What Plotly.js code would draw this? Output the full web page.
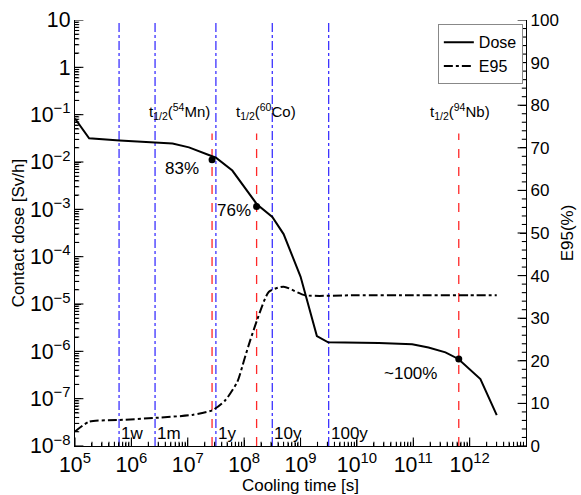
<!DOCTYPE html>
<html>
<head>
<meta charset="utf-8">
<script src="https://cdn.plot.ly/plotly-3.0.1.min.js"></script>
<style>
html,body{margin:0;padding:0;background:#fff;}
#chart{width:581px;height:495px;}
</style>
</head>
<body>
<div id="chart"></div>
<script>
// ---- data ----
const doseTime = [1e5, 1.78e5, 6.17e5, 2.69e6, 5.37e6, 1.05e7, 2.09e7, 3.16e7, 6.17e7, 1.70e8, 3.16e8, 5.01e8, 1e9, 1.95e9, 3.09e9, 2.45e10, 9.55e10, 1.86e11, 3.72e11, 6.31e11, 1.55e12, 3.02e12];
const doseValue = [0.083, 0.0316, 0.0285, 0.0259, 0.0245, 0.0204, 0.0148, 0.0123, 0.0066, 0.00126, 6.9e-4, 3.0e-4, 3.8e-5, 2.1e-6, 1.55e-6, 1.5e-6, 1.41e-6, 1.2e-6, 9.5e-7, 6.9e-7, 2.6e-7, 4.5e-8];

const e95Time = [1e5, 1.78e5, 6.17e5, 2.69e6, 1.2e7, 2.75e7, 4.68e7, 7.59e7, 1e8, 1.26e8, 1.70e8, 2.75e8, 5.01e8, 1.2e9, 1e10, 1e11, 1e12, 3.02e12];
const e95Value = [3.4, 5.7, 6.1, 6.6, 7.3, 8.4, 10.8, 15.1, 20.2, 24.5, 29.6, 36.2, 37.4, 35.4, 35.4, 35.4, 35.4, 35.4];

const periodLabels = ['1w', '1m', '1y', '10y', '100y'];
const periodSeconds = [604800, 2629800, 31557600, 315576000, 3155760000];

const nuclideLabels = ['t<sub>1/2</sub>(<sup>54</sup>Mn)', 't<sub>1/2</sub>(<sup>60</sup>Co)', 't<sub>1/2</sub>(<sup>94</sup>Nb)'];
const halfLifeSeconds = [2.697e7, 1.6635e8, 6.406e11];
const halfLifeDose = [0.0112, 0.00115, 6.9e-7];
const halfLifeShare = ['83%', '76%', '~100%'];

const xDecades = [5, 6, 7, 8, 9, 10, 11, 12];
const yDecades = [-8, -7, -6, -5, -4, -3, -2, -1, 0, 1];
const y2Major = [0, 10, 20, 30, 40, 50, 60, 70, 80, 90, 100];

// ---- traces ----
const traces = [];
periodSeconds.forEach(t => {
  traces.push({x: [t, t], y: [1e-8, 10], mode: 'lines', showlegend: false, hoverinfo: 'skip',
    line: {color: 'rgb(60,50,255)', width: 1.3, dash: 'dashdot'}});
});
halfLifeSeconds.forEach(t => {
  traces.push({x: [t, t], y: [1e-8, 0.04], mode: 'lines', showlegend: false, hoverinfo: 'skip',
    line: {color: 'rgb(255,40,40)', width: 1.3, dash: 'dash'}});
});
traces.push({x: doseTime, y: doseValue, name: 'Dose', mode: 'lines',
  line: {color: 'black', width: 2}});
traces.push({x: e95Time, y: e95Value, name: 'E95', mode: 'lines', yaxis: 'y2',
  line: {color: 'black', width: 2, dash: 'dashdot', shape: 'spline', smoothing: 0.6}});
traces.push({x: halfLifeSeconds, y: halfLifeDose, mode: 'markers', showlegend: false,
  marker: {color: 'black', size: 7}});

// ---- tick marks drawn as clipped markers on the axis edges (inside ticks) ----
const xMinorT = [], xMajorT = [];
xDecades.forEach(d => { xMajorT.push(Math.pow(10, d)); for (let k = 2; k <= 9; k++) xMinorT.push(k * Math.pow(10, d)); });
const yMinorT = [], yMajorT = [];
yDecades.forEach(d => { yMajorT.push(Math.pow(10, d)); if (d < 1) for (let k = 2; k <= 9; k++) yMinorT.push(k * Math.pow(10, d)); });
const y2MinorT = [];
for (let v = 0; v <= 100; v += 2) if (v % 10) y2MinorT.push(v);
const xEdgeL = 1e5, xEdgeR = Math.pow(10, 12.999);
function tickTrace(xs, ys, sym, size, axis) {
  return {x: xs, y: ys, mode: 'markers', showlegend: false, hoverinfo: 'skip', cliponaxis: true, yaxis: axis || 'y',
    marker: {symbol: sym, size: size, color: 'black', line: {color: 'black', width: 1.1}}};
}
traces.push(tickTrace(xMajorT, xMajorT.map(() => 1e-8), 'line-ns', 12));
traces.push(tickTrace(xMinorT, xMinorT.map(() => 1e-8), 'line-ns', 6));
traces.push(tickTrace(yMajorT.map(() => xEdgeL), yMajorT, 'line-ew', 12));
traces.push(tickTrace(yMinorT.map(() => xEdgeL), yMinorT, 'line-ew', 6));
traces.push(tickTrace(y2Major.map(() => xEdgeR), y2Major, 'line-ew', 12, 'y2'));
traces.push(tickTrace(y2MinorT.map(() => xEdgeR), y2MinorT, 'line-ew', 6, 'y2'));

// ---- annotations ----
const font = {family: 'Liberation Sans, Arial, sans-serif', size: 17, color: 'black'};
const annotations = [];
periodLabels.forEach((lab, i) => {
  annotations.push({x: Math.log10(periodSeconds[i]), y: -7.74, xref: 'x', yref: 'y', text: lab,
    showarrow: false, xanchor: 'left', yanchor: 'middle', font: font});
});
const nucPos = [[6.86, -0.93], [8.39, -0.93], [11.82, -0.93]];
nuclideLabels.forEach((lab, i) => {
  annotations.push({x: nucPos[i][0], y: nucPos[i][1], xref: 'x', yref: 'y', text: lab,
    showarrow: false, xanchor: 'center', yanchor: 'middle', font: Object.assign({}, font, {size: 15})});
});
const sharePos = [[6.89, -2.136], [7.82, -3.02], [10.95, -6.46]];
halfLifeShare.forEach((lab, i) => {
  annotations.push({x: sharePos[i][0], y: sharePos[i][1], xref: 'x', yref: 'y', text: lab,
    showarrow: false, xanchor: 'center', yanchor: 'middle', font: font});
});

const legFont = Object.assign({}, font, {size: 16});
const noGrid = 'rgba(0,0,0,0)';
const layout = {
  width: 581, height: 495,
  margin: {l: 75, r: 55, t: 20, b: 49},
  font: font,
  showlegend: true,
  legend: {x: 0.993, y: 0.99, xanchor: 'right', yanchor: 'top', bgcolor: 'white',
    bordercolor: '#888', borderwidth: 1, font: legFont},
  xaxis: {type: 'log', range: [5, 12.999], dtick: 1, exponentformat: 'power', gridcolor: noGrid,
    showline: true, linecolor: 'black', linewidth: 1.2,
    ticks: 'inside', ticklen: 6, tickwidth: 1.2, tickcolor: 'black',
    minor: {ticks: 'inside', ticklen: 3, tickwidth: 1, tickcolor: 'black'},
    title: {text: 'Cooling time [s]', font: font, standoff: 0}},
  yaxis: {type: 'log', range: [-8, 1], dtick: 1, exponentformat: 'power', gridcolor: noGrid,
    showline: true, linecolor: 'black', linewidth: 1.2,
    ticks: 'inside', ticklen: 6, tickwidth: 1.2, tickcolor: 'black',
    minor: {ticks: 'inside', ticklen: 3, tickwidth: 1, tickcolor: 'black'},
    title: {text: 'Contact dose [Sv/h]', font: font, standoff: 0}},
  yaxis2: {overlaying: 'y', side: 'right', range: [0, 100], dtick: 10, gridcolor: noGrid, zerolinecolor: 'black',
    showline: true, linecolor: 'black', linewidth: 1.2,
    ticks: 'inside', ticklen: 6, tickwidth: 1.2, tickcolor: 'black',
    title: {text: 'E95(%)', font: font, standoff: 3}},
  annotations: annotations
};

Plotly.newPlot('chart', traces, layout, {displayModeBar: false});
</script>
</body>
</html>
